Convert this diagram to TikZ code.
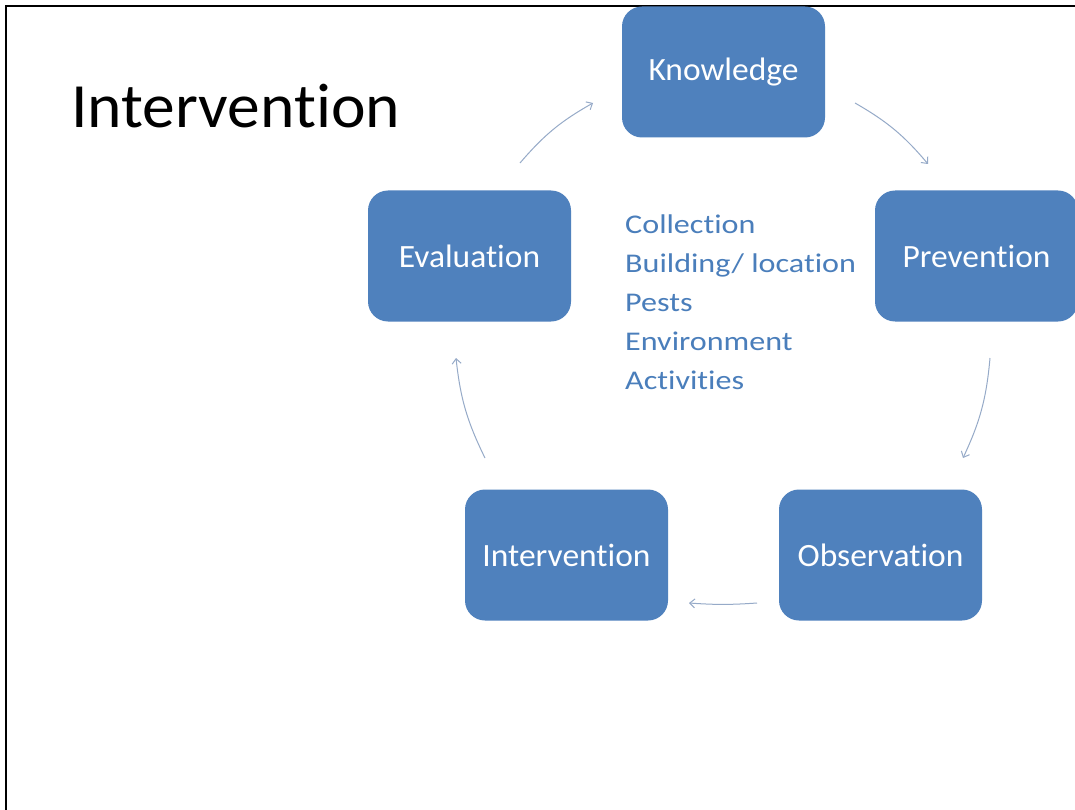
\documentclass[tikz,border=0pt]{standalone}
\usepackage{fontspec}
\setmainfont{Carlito}[Ligatures=NoCommon]
\newfontfamily\titlefont{Carlito}[Ligatures=NoCommon, FakeStretch=1.04]
\newfontfamily\boxfont{Carlito}[Ligatures=NoCommon, FakeStretch=1.03]
\newfontfamily\listfont{Carlito}[Ligatures=NoCommon, FakeStretch=1.19]
\usetikzlibrary{arrows.meta}
\definecolor{boxblue}{RGB}{79,129,189}
\definecolor{listblue}{RGB}{74,126,187}
\definecolor{arrowc}{RGB}{150,170,200}
\begin{document}
\begin{tikzpicture}[x=1pt,y=-1pt,
  stepbox/.style={fill=boxblue, rounded corners=20pt, minimum width=203pt,
    minimum height=131pt, text=white, font=\boxfont\fontsize{32.5}{36}\selectfont, inner sep=0pt},
  cyc/.style={draw=arrowc, line width=1pt, -{Straight Barb[length=5pt,width=9pt]}, bend left=10}]
\useasboundingbox (0,0) rectangle (1075,810);
\fill[white] (0,0) rectangle (1075,810);
\draw[line width=2.2pt] (6,810) -- (6,6) -- (1075,6);

\node[anchor=base west, inner sep=0pt, font=\titlefont\fontsize{63}{70}\selectfont] (title) at (71,128) {Intervention};

\node[stepbox] (know) at (723.5,72) {Knowledge};
\node[stepbox] (prev) at (976.5,256) {Prevention};
\node[stepbox] (obs)  at (880.5,555) {Observation};
\node[stepbox] (inter) at (566.5,555) {Intervention};
\node[stepbox] (eval) at (469.5,256) {Evaluation};

\node[anchor=base west, align=left, inner sep=0pt, text=listblue,
  font=\listfont\fontsize{27}{39}\selectfont] (list) at (625,389)
  {Collection\\Building/ location\\Pests\\Environment\\Activities};

\coordinate (a1s) at (520,163); \coordinate (a1e) at (593,103);
\coordinate (a2s) at (855,103); \coordinate (a2e) at (928,164);
\coordinate (a3s) at (990,358); \coordinate (a3e) at (963,458);
\coordinate (a4s) at (757,603); \coordinate (a4e) at (689,603);
\coordinate (a5s) at (485,458); \coordinate (a5e) at (456,358);

\draw[cyc] (a1s) to (a1e);
\draw[cyc] (a2s) to (a2e);
\draw[cyc] (a3s) to (a3e);
\draw[cyc, bend left=4] (a4s) to (a4e);
\draw[cyc] (a5s) to (a5e);
\end{tikzpicture}
\end{document}
